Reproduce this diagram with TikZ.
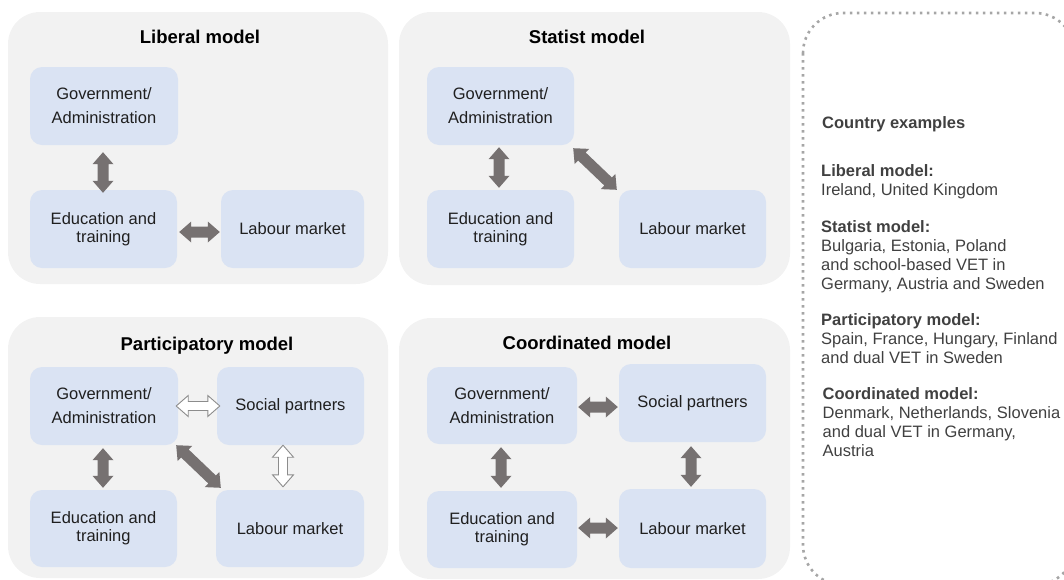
\documentclass[tikz,border=0pt]{standalone}
\usepackage{fontspec}
\setmainfont{Liberation Sans}
\usetikzlibrary{calc}
\definecolor{panelgray}{HTML}{F2F2F2}
\definecolor{boxblue}{HTML}{DAE3F3}
\definecolor{arrowgray}{HTML}{767171}
\definecolor{arrowedge}{HTML}{8C8C8C}
\definecolor{dotgray}{HTML}{A6A6A6}
\definecolor{txtdark}{HTML}{1F1F1F}
\definecolor{txtgray}{HTML}{404040}

\tikzset{
 panel/.style={fill=panelgray, rounded corners=32pt},
 mbox/.style={fill=boxblue, rounded corners=12pt, inner sep=0pt, align=center, text=txtdark, font=\fontsize{16.5}{18}\selectfont},
 govtext/.style={font=\fontsize{16.5}{24}\selectfont},
 ptitle/.style={font=\bfseries\fontsize{18.5}{22}\selectfont, anchor=base, inner sep=0pt},
 rtext/.style={anchor=base west, inner sep=0pt, text=txtgray, font=\fontsize{16.5}{19}\selectfont},
 rhead/.style={rtext, font=\bfseries\fontsize{16.5}{19}\selectfont},
 darrow/.style={fill=arrowgray},
 warrow/.style={fill=white, draw=arrowedge, line width=0.9pt},
}

% #1 style, #2 start point, #3 end point, #4 half shaft width
\newcommand{\dblarr}[4]{%
  \coordinate (da) at #2;
  \coordinate (db) at #3;
  \path[#1] (da)
    -- ($(da)!12pt!(db)!10.5pt!90:(db)$)
    -- ($(da)!12pt!(db)!#4!90:(db)$)
    -- ($(db)!12pt!(da)!#4!-90:(da)$)
    -- ($(db)!12pt!(da)!10.5pt!-90:(da)$)
    -- (db)
    -- ($(db)!12pt!(da)!10.5pt!90:(da)$)
    -- ($(db)!12pt!(da)!#4!90:(da)$)
    -- ($(da)!12pt!(db)!#4!-90:(db)$)
    -- ($(da)!12pt!(db)!10.5pt!-90:(db)$)
    -- cycle;
}

\begin{document}
\begin{tikzpicture}[x=1pt, y=-1pt]
\useasboundingbox (0,0) rectangle (1064,579);
\clip (0,0) rectangle (1064,579);

% panels
\path[panel] (8,12) rectangle (388,284);
\path[panel] (399,12) rectangle (790,285);
\path[panel] (8,317) rectangle (388,578);
\path[panel] (399,318) rectangle (790,579);

% titles
\node[ptitle] (tlib) at (200,43) {Liberal model};
\node[ptitle] (tsta) at (587,43) {Statist model};
\node[ptitle] (tpar) at (207,350) {Participatory model};
\node[ptitle] (tcoo) at (587,349) {Coordinated model};

% Liberal model
\node[mbox, govtext, minimum width=148pt, minimum height=78pt] (lgov) at (104,106) {Government/\\Administration};
\node[mbox, minimum width=147pt, minimum height=78pt] (ledu) at (103.5,229) {Education and\\training};
\node[mbox, minimum width=143pt, minimum height=78pt] (llab) at (292.5,229) {Labour market};
\dblarr{darrow}{($(lgov.south)+(-1,7)$)}{($(ledu.north)+(-0.5,3)$)}{5.5pt}
\dblarr{darrow}{($(ledu.east)+(2,3)$)}{($(llab.west)+(-1,3)$)}{5.5pt}

% Statist model
\node[mbox, govtext, minimum width=147pt, minimum height=78pt] (sgov) at (500.5,106) {Government/\\Administration};
\node[mbox, minimum width=147pt, minimum height=78pt] (sedu) at (500.5,229) {Education and\\training};
\node[mbox, minimum width=147pt, minimum height=78pt] (slab) at (692.5,229) {Labour market};
\dblarr{darrow}{($(sgov.south)+(-1.5,2)$)}{($(sedu.north)+(-1.5,-2)$)}{5.5pt}
\dblarr{darrow}{($(sgov.south east)+(-1,3)$)}{($(slab.north west)+(-2,0)$)}{5.5pt}

% Participatory model
\node[mbox, govtext, minimum width=148pt, minimum height=78pt] (pgov) at (104,406) {Government/\\Administration};
\node[mbox, minimum width=147pt, minimum height=78pt] (psoc) at (290.5,406) {Social partners};
\node[mbox, minimum width=147pt, minimum height=77pt] (pedu) at (103.5,528.5) {Education and\\training};
\node[mbox, minimum width=148pt, minimum height=77pt] (plab) at (290,528.5) {Labour market};
\dblarr{warrow}{($(pgov.east)+(-2,0)$)}{($(psoc.west)+(3,0)$)}{4.5pt}
\dblarr{darrow}{($(pgov.south)+(-1,3)$)}{($(pedu.north)+(-0.5,-2)$)}{5.5pt}
\dblarr{darrow}{($(pgov.south east)+(-2,0)$)}{($(plab.north west)+(5,-2)$)}{5.5pt}
\dblarr{warrow}{($(psoc.south)+(-7.5,0)$)}{($(plab.north)+(-7,-3)$)}{4.5pt}

% Coordinated model
\node[mbox, govtext, minimum width=150pt, minimum height=77pt] (cgov) at (502,405.5) {Government/\\Administration};
\node[mbox, minimum width=147pt, minimum height=78pt] (csoc) at (692.5,403) {Social partners};
\node[mbox, minimum width=150pt, minimum height=77pt] (cedu) at (502,529.5) {Education and\\training};
\node[mbox, minimum width=147pt, minimum height=79pt] (clab) at (692.5,528.5) {Labour market};
\dblarr{darrow}{($(cgov.east)+(1,1.5)$)}{($(csoc.west)+(-1,4)$)}{5.5pt}
\dblarr{darrow}{($(cgov.south)+(-1,3)$)}{($(cedu.north)+(-1,-3)$)}{5.5pt}
\dblarr{darrow}{($(csoc.south)+(-1.5,4)$)}{($(clab.north)+(-1.5,-2)$)}{5.5pt}
\dblarr{darrow}{($(cedu.east)+(1,-1.5)$)}{($(clab.west)+(-1,-0.5)$)}{5.5pt}

% Country examples panel
\draw[dotgray, line width=2.6pt, dash pattern=on 2.6pt off 4.4pt, rounded corners=40pt] (803,13) rectangle (1075,585);
\node[rhead] (ce) at (822,128) {Country examples};
\node[rhead] (rl1) at (821,176) {Liberal model:};
\node[rtext] (rl2) at (821,195) {Ireland, United Kingdom};
\node[rhead] (rs1) at (821,232) {Statist model:};
\node[rtext] (rs2) at (821,251) {Bulgaria, Estonia, Poland};
\node[rtext] (rs3) at (821,270) {and school-based VET in};
\node[rtext] (rs4) at (821,289) {Germany, Austria and Sweden};
\node[rhead] (rp1) at (821,325) {Participatory model:};
\node[rtext] (rp2) at (821,344) {Spain, France, Hungary, Finland};
\node[rtext] (rp3) at (821,363) {and dual VET in Sweden};
\node[rhead] (rc1) at (822.5,399) {Coordinated model:};
\node[rtext] (rc2) at (822.5,418) {Denmark, Netherlands, Slovenia};
\node[rtext] (rc3) at (822.5,437) {and dual VET in Germany,};
\node[rtext] (rc4) at (822.5,456) {Austria};
\end{tikzpicture}
\end{document}
